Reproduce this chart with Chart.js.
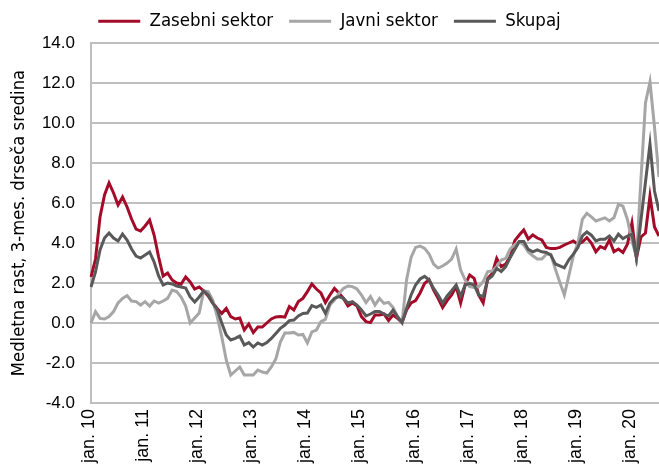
<!DOCTYPE html>
<html>
<head>
<meta charset="utf-8">
<script src="https://cdn.jsdelivr.net/npm/chart.js@4.4.1/dist/chart.umd.min.js"></script>
<style>
  body { margin: 0; background: #fff; }
  #wrap { width: 659px; height: 470px; }
</style>
</head>
<body>
<div id="wrap"><canvas id="myChart" width="659" height="470"></canvas></div>
<script>
// monthly series, jan. 2010 - jul. 2020
var months = ['jan.', 'feb.', 'mar.', 'apr.', 'maj', 'jun.', 'jul.', 'avg.', 'sep.', 'okt.', 'nov.', 'dec.'];
var firstYear = 10;
var monthCount = 127;

var zasebni = [
    2.3, 3.2, 5.3, 6.4, 7.0, 6.5, 5.9, 6.3, 5.8, 5.2, 4.7, 4.6,
    4.85, 5.15, 4.4, 3.3, 2.35, 2.5, 2.15, 2.0, 1.95, 2.3, 2.05, 1.7,
    1.8, 1.6, 1.35, 1.0, 0.73, 0.48, 0.73, 0.32, 0.2, 0.25, -0.35, -0.05,
    -0.48, -0.2, -0.2, 0.0, 0.2, 0.3, 0.33, 0.3, 0.82, 0.65, 1.07, 1.23,
    1.57, 1.95, 1.7, 1.5, 1.02, 1.4, 1.73, 1.5, 1.23, 0.85, 1.0, 0.85,
    0.32, 0.07, 0.02, 0.4, 0.4, 0.45, 0.12, 0.4, 0.23, 0.02, 0.65, 1.0,
    1.12, 1.5, 1.98, 2.17, 1.65, 1.23, 0.78, 1.12, 1.4, 1.82, 1.0, 1.9,
    2.4, 2.23, 1.4, 1.0, 2.23, 2.48, 3.23, 2.82, 2.95, 3.32, 4.12, 4.4,
    4.65, 4.2, 4.4, 4.25, 4.15, 3.78, 3.72, 3.72, 3.78, 3.9, 4.0, 4.1,
    3.94, 4.05, 4.27, 4.0, 3.56, 3.82, 3.72, 4.15, 3.56, 3.7, 3.53, 3.94,
    5.0, 3.25, 4.3, 4.5, 6.35, 4.8, 4.35
];
var javni = [
    0.0, 0.57, 0.23, 0.2, 0.32, 0.57, 1.0, 1.23, 1.37, 1.1, 1.07, 0.9,
    1.07, 0.85, 1.1, 1.0, 1.1, 1.23, 1.65, 1.57, 1.3, 0.85, 0.0, 0.25,
    0.5, 1.6, 1.57, 1.15, 0.32, -0.68, -1.85, -2.6, -2.4, -2.2, -2.6, -2.6,
    -2.6, -2.35, -2.45, -2.5, -2.2, -1.8, -0.95, -0.5, -0.5, -0.47, -0.6, -0.57,
    -1.0, -0.45, -0.35, 0.07, 0.18, 0.9, 1.15, 1.48, 1.73, 1.85, 1.82, 1.7,
    1.4, 1.02, 1.32, 0.9, 1.23, 0.98, 1.03, 0.78, 0.32, 0.02, 2.15, 3.28,
    3.78, 3.85, 3.73, 3.45, 2.95, 2.75, 2.85, 3.0, 3.2, 3.7, 2.65, 2.15,
    1.82, 1.78, 1.82, 2.07, 2.57, 2.6, 2.82, 3.15, 3.23, 3.7, 3.92, 4.07,
    3.9, 3.55, 3.36, 3.2, 3.2, 3.44, 3.44, 2.7, 2.04, 1.4, 2.37, 3.36,
    4.0, 5.18, 5.48, 5.31, 5.1, 5.18, 5.26, 5.1, 5.26, 5.93, 5.84, 5.18,
    4.1, 3.3, 7.2, 11.0, 12.05, 9.8, 7.3
];
var skupaj = [
    1.8, 2.55, 3.65, 4.25, 4.5, 4.25, 4.1, 4.45, 4.15, 3.7, 3.35, 3.25,
    3.4, 3.55, 3.05, 2.35, 1.9, 2.0, 1.95, 1.85, 1.8, 1.75, 1.3, 1.05,
    1.3, 1.6, 1.4, 1.0, 0.67, 0.0, -0.6, -0.85, -0.77, -0.65, -1.1, -0.98,
    -1.2, -1.0, -1.1, -0.98, -0.77, -0.52, -0.27, -0.1, 0.12, 0.15, 0.35, 0.48,
    0.5, 0.87, 0.78, 0.9, 0.48, 1.0, 1.23, 1.32, 1.23, 1.0, 1.07, 0.9,
    0.65, 0.35, 0.45, 0.57, 0.57, 0.45, 0.35, 0.65, 0.32, 0.02, 0.73, 1.4,
    1.9, 2.2, 2.33, 2.15, 1.73, 1.4, 1.0, 1.35, 1.62, 1.9, 1.35, 1.9,
    1.98, 1.9, 1.4, 1.32, 2.17, 2.35, 2.73, 2.57, 2.82, 3.28, 3.68, 4.07,
    4.07, 3.68, 3.56, 3.66, 3.56, 3.53, 3.4, 2.95, 2.86, 2.76, 3.16, 3.44,
    3.77, 4.35, 4.55, 4.39, 4.1, 4.19, 4.19, 4.35, 4.1, 4.44, 4.22, 4.35,
    4.44, 3.25, 5.15, 7.05, 8.95, 6.6, 5.6
];

var labels = [];
for (var i = 0; i < monthCount; i++) {
    var yy = firstYear + Math.floor(i / 12);
    labels.push(months[i % 12] + ' ' + yy);
}

var narrow = "'Liberation Sans Narrow', 'DejaVu Sans Condensed', sans-serif";
var regular = "'Liberation Sans', Arial, sans-serif";

// make the legend box a fixed height so the plot top lands where it should
const legendHeight = {
    id: 'legendHeight',
    beforeInit(chart) {
        const fit = chart.legend.fit;
        chart.legend.fit = function () {
            fit.call(this);
            this.height = 47;
        };
    }
};

// january labels on the x axis, turned upright
const janLabels = {
    id: 'janLabels',
    afterDraw(chart) {
        const x = chart.scales.x;
        const ctx = chart.ctx;
        ctx.save();
        ctx.fillStyle = '#000';
        ctx.font = '18px ' + regular;
        ctx.textAlign = 'right';
        ctx.textBaseline = 'middle';
        for (let i = 0; i < labels.length; i += 12) {
            ctx.save();
            ctx.translate(x.getPixelForValue(i) - 2, x.top + 6);
            ctx.rotate(-Math.PI / 2);
            ctx.fillText(labels[i], 0, 0);
            ctx.restore();
        }
        ctx.restore();
    }
};

function line(label, data, color, order) {
    return {
        label: label,
        data: data,
        borderColor: color,
        backgroundColor: color,
        borderWidth: 3,
        pointRadius: 0,
        tension: 0,
        order: order
    };
}

new Chart("myChart", {
    type: 'line',
    data: {
        labels: labels,
        datasets: [
            line('Zasebni sektor', zasebni, '#a30b28', 2),
            line('Javni sektor', javni, '#a6a6a6', 1),
            line('Skupaj', skupaj, '#595959', 0)
        ]
    },
    options: {
        responsive: false,
        animation: false,
        devicePixelRatio: 1,
        layout: { padding: { top: -4, left: 0, right: 0, bottom: 0 } },
        plugins: {
            tooltip: { enabled: false },
            legend: {
                position: 'top',
                labels: {
                    usePointStyle: true,
                    pointStyle: 'line',
                    pointStyleWidth: 42,
                    padding: 16,
                    color: '#000',
                    font: { family: narrow, size: 18.5 },
                    sort: function (a, b) { return a.datasetIndex - b.datasetIndex; }
                }
            }
        },
        scales: {
            x: {
                grid: { display: false },
                border: { display: false },
                ticks: { display: false },
                afterFit: function (scale) { scale.height = 67; }
            },
            y: {
                min: -4,
                max: 14,
                ticks: {
                    stepSize: 2,
                    padding: 16,
                    color: '#000',
                    font: { family: regular, size: 17 },
                    callback: function (v) { return v.toFixed(1); }
                },
                grid: { color: '#bfbfbf', lineWidth: 2, drawTicks: false },
                border: { color: '#bfbfbf', width: 2 },
                title: {
                    display: true,
                    text: 'Medletna rast, 3-mes. drseča sredina',
                    color: '#000',
                    font: { family: narrow, size: 18.3 },
                    padding: { top: 8, bottom: 0 }
                },
                afterFit: function (scale) { scale.width = 91; }
            }
        }
    },
    plugins: [legendHeight, janLabels]
});
</script>
</body>
</html>
